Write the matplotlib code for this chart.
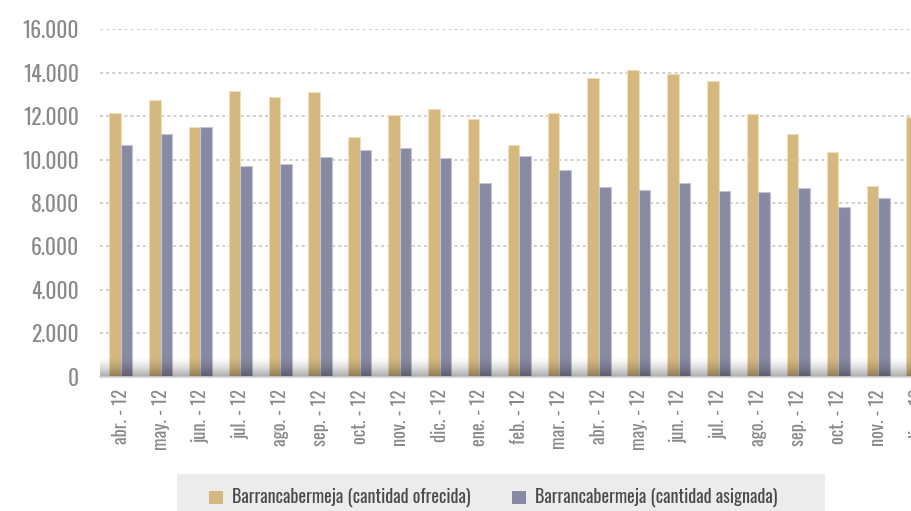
import numpy as np
import matplotlib
matplotlib.use("Agg")
from matplotlib import pyplot as plt
from matplotlib import font_manager
from matplotlib.patches import Rectangle
from matplotlib.ticker import FuncFormatter

#condensed face like the original, first one that is installed
names = {e.name for e in font_manager.fontManager.ttflist}
face = next((f for f in ["Oswald", "Roboto Condensed", "Archivo Narrow", "PT Sans Narrow",
                         "Liberation Sans Narrow"] if f in names), "DejaVu Sans")
plt.rcParams['font.family'] = [face, 'DejaVu Sans']
plt.rcParams['font.weight'] = 400

#data
months = ["abr. - 12", "may. - 12", "jun. - 12", "jul. - 12", "ago. - 12", "sep. - 12",
          "oct. - 12", "nov. - 12", "dic. - 12", "ene. - 12", "feb. - 12", "mar. - 12",
          "abr. - 12", "may. - 12", "jun. - 12", "jul. - 12", "ago. - 12", "sep. - 12",
          "oct. - 12", "nov. - 12", "dic. - 12"]
ofrecida = [12140, 12750, 11500, 13180, 12870, 13115, 11040, 12070, 12320, 11890,
            10660, 12150, 13780, 14110, 13960, 13640, 12100, 11180, 10350, 8800, 11940]
asignada = [10660, 11190, 11500, 9700, 9790, 10120, 10430, 10550, 10090, 8940,
            10170, 9510, 8720, 8590, 8940, 8540, 8490, 8680, 7800, 8250, np.nan]

gold = "#d5b87f"
slate = "#888aa3"
grey_txt = "#8a8a8a"

W, H = 911, 511
fig = plt.figure(figsize=(W / 100, H / 100), dpi=100)
# axes runs past the right edge, the original chart is cut there
left_px, right_px, top_px, bot_px = 100, 960, 29.3, 376.7
ax = fig.add_axes([left_px / W, 1 - bot_px / H, (right_px - left_px) / W, (bot_px - top_px) / H])

x = np.arange(len(months))
bw = 0.29
ax.bar(x - bw / 2, ofrecida, bw, color=gold, edgecolor="#efe0bb", linewidth=0.8, zorder=2)
ax.bar(x + bw / 2, asignada, bw, color=slate, edgecolor="#c3c5d3", linewidth=0.8, zorder=2)

x0 = -0.52
x1 = x0 + (right_px - left_px) / 39.86

#floor shading at the base of the bars
n = 64
ramp = np.zeros((n, 1, 4))
ramp[:, 0, 3] = 0.34 * (1 - np.linspace(0, 1, n)) ** 1.5
ax.imshow(ramp, extent=[x0, x1, 0, 950], origin="lower", aspect="auto", zorder=3,
          interpolation="bilinear")

ax.set_xlim(x0, x1)
ax.set_ylim(0, 16000)
ax.set_yticks(range(0, 16001, 2000))
ax.yaxis.set_major_formatter(FuncFormatter(lambda v, p: f"{int(v):,}".replace(",", ".")))
ax.set_xticks(x)
ax.set_xticklabels(months, rotation=90, va="top", ha="center")

ax.yaxis.grid(True, color="#c4c4c4", linestyle=(0, (2, 2)), linewidth=1.1, zorder=0)
ax.set_axisbelow(True)
for s in ["top", "right", "left"]:
    ax.spines[s].set_visible(False)
ax.spines["bottom"].set_color("#d2d2d2")
ax.spines["bottom"].set_linewidth(1.2)
ax.spines["bottom"].set_zorder(4)

ax.tick_params(axis="y", length=0, pad=15, labelsize=15.5, labelcolor=grey_txt)
ax.tick_params(axis="x", length=0, pad=9, labelsize=13.3, labelcolor=grey_txt)

#legend box at the bottom
fig.patches.append(Rectangle((177 / W, 0), (825 - 177) / W, (H - 474) / H,
                             transform=fig.transFigure, facecolor="#ececec",
                             edgecolor="none", zorder=0))
ly = 1 - 497.5 / H
for sx, tx, col, lab in [(209, 232, gold, "Barrancabermeja (cantidad ofrecida)"),
                         (512, 535, slate, "Barrancabermeja (cantidad asignada)")]:
    fig.patches.append(Rectangle((sx / W, 1 - 504 / H), 14 / W, 13 / H,
                                 transform=fig.transFigure, facecolor=col,
                                 edgecolor="none", zorder=1))
    fig.text(tx / W, ly, lab, fontsize=13, color="#4a4a4a", va="center", ha="left")

fig.savefig("out.png", dpi=100)
